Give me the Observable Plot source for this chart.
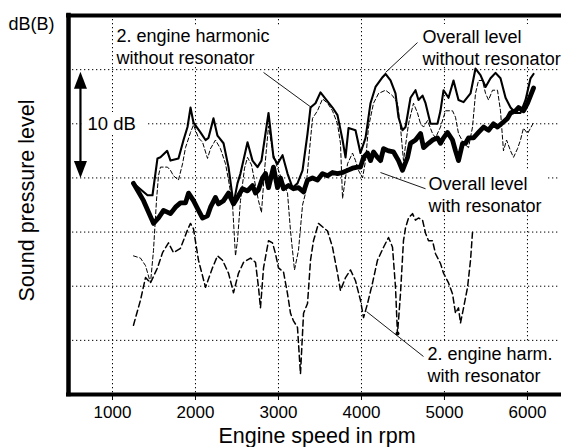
<!DOCTYPE html>
<html><head><meta charset="utf-8">
<script src="https://cdn.jsdelivr.net/npm/d3@7"></script>
<script src="https://cdn.jsdelivr.net/npm/@observablehq/plot@0.6"></script>
<style>body{margin:0;background:#fff} svg{display:block}</style>
</head><body><div id="chart"></div>
<script>
// ---- data (rpm, dB) ----
const overallWithoutRpm = [1253,1422,1482,1542,1578,1659,1699,1795,1856,1904,1940,1976,2060,2121,2157,2217,2265,2338,2398,2458,2506,2542,2627,2687,2747,2795,2832,2880,2940,2988,3049,3109,3169,3229,3290,3350,3386,3446,3506,3567,3651,3711,3772,3808,3844,3928,3988,4049,4109,4169,4254,4290,4350,4410,4446,4494,4531,4591,4651,4687,4736,4772,4832,4916,4952,4989,5049,5109,5169,5230,5314,5374,5434,5495,5555,5615,5675,5736,5796,5856,5916,5977,6037,6073];
const overallWithoutDb = [19.5,18.4,18.4,21.8,21.9,22.5,21.6,21.8,23.5,24.7,26.5,25.1,24.2,23.5,23.7,25.5,23.9,23.2,21.0,17.6,19.5,20.4,23.3,21.6,21.0,21.6,23.5,26.0,21.9,21.3,22.1,20.4,19.1,19.5,20.7,24.1,26.5,26.9,27.9,27.3,26.5,25.8,23.5,21.9,24.6,24.4,22.3,23.7,26.9,28.4,29.3,29.6,29.0,27.8,25.6,24.4,24.7,27.4,28.1,27.2,27.6,26.9,25.0,25.0,26.2,28.1,27.4,29.0,27.2,27.0,27.8,30.1,29.5,28.4,29.2,29.7,29.2,27.4,26.5,26.0,26.0,27.2,29.2,29.6];

const harmWithoutRpm = [1253,1337,1398,1458,1494,1530,1554,1578,1663,1699,1735,1795,1844,1880,1940,1976,2036,2085,2145,2181,2241,2301,2362,2398,2446,2482,2506,2542,2591,2627,2675,2723,2759,2795,2832,2880,2928,2976,3024,3073,3109,3145,3193,3241,3290,3326,3362,3410,3470,3531,3591,3651,3711,3747,3772,3832,3892,3928,3964,4013,4049,4085,4145,4206,4290,4374,4434,4470,4506,4567,4627,4675,4712,4748,4796,4856,4892,4952,5013,5097,5133,5169,5230,5290,5338,5374,5410,5458,5495,5531,5579,5639,5675,5711,5748,5796,5832,5880,5916,5952,6001,6037,6073];
const harmWithoutDb = [12.8,12.6,11.9,10.3,13.3,17.9,20.2,21.0,21.0,20.7,20.2,19.8,21.3,22.8,24.2,24.9,23.7,23.3,21.8,22.7,23.5,22.7,21.3,19.8,17.6,12.8,14.2,17.9,20.9,21.9,21.2,19.3,17.9,16.8,20.7,24.8,22.5,21.2,20.2,19.3,18.6,15.1,11.5,13.3,17.5,18.6,21.6,25.5,26.2,27.3,26.9,26.2,25.0,23.2,18.1,21.3,22.3,21.6,20.7,20.0,21.6,24.7,26.9,27.8,28.1,27.6,26.9,24.7,21.6,25.0,26.9,26.0,25.0,24.7,25.3,24.1,23.7,24.7,26.2,26.2,25.6,24.1,23.2,22.8,24.7,27.8,29.0,29.0,27.8,27.2,28.1,28.1,26.2,22.5,23.5,22.5,21.9,22.7,23.5,24.6,24.1,24.6,25.1];

const overallWithRpm = [1253,1374,1494,1554,1615,1699,1759,1819,1880,1916,1976,2036,2085,2145,2181,2241,2277,2338,2398,2458,2506,2566,2627,2687,2723,2759,2808,2844,2880,2940,2988,3024,3061,3121,3181,3241,3302,3350,3410,3470,3531,3591,3651,3711,3772,3832,3892,3952,3988,4025,4073,4109,4145,4193,4230,4266,4326,4386,4446,4494,4555,4591,4651,4712,4748,4808,4856,4916,4952,4989,5037,5097,5133,5169,5218,5254,5290,5350,5410,5471,5531,5591,5639,5700,5760,5796,5856,5892,5952,6001,6037,6073];
const overallWithDb = [19.5,17.9,15.8,16.3,17.0,16.7,17.3,17.7,17.7,18.6,17.9,17.0,16.3,16.5,17.3,18.2,17.6,17.9,18.6,17.6,18.2,19.0,18.8,19.3,18.6,18.9,20.0,20.4,19.1,21.0,19.1,20.0,19.0,19.3,19.0,19.1,18.7,19.8,20.0,19.8,20.4,20.2,20.5,20.4,20.5,20.7,20.9,21.0,21.0,21.9,22.3,21.6,22.4,21.9,21.6,22.7,22.5,22.4,21.6,20.7,21.9,23.2,23.5,24.1,22.8,23.2,23.5,23.7,23.2,23.7,24.2,23.5,22.5,21.6,23.2,23.2,23.7,23.7,24.2,24.7,24.4,25.0,24.7,25.1,25.5,26.0,26.2,26.5,26.2,26.9,27.6,28.3];

const harmWithRpm = [1253,1337,1398,1458,1542,1603,1675,1735,1819,1904,1940,1976,2036,2121,2205,2265,2326,2398,2458,2518,2579,2663,2723,2759,2783,2820,2880,2928,2964,3000,3061,3109,3145,3181,3229,3265,3302,3350,3386,3422,3482,3543,3591,3651,3711,3747,3808,3868,3928,3988,4025,4073,4133,4193,4266,4326,4374,4410,4434,4470,4506,4531,4567,4615,4651,4687,4736,4772,4808,4856,4892,4952,4989,5049,5097,5133,5169,5193,5230,5278,5314,5338];
const harmWithDb = [6.4,8.7,10.8,10.3,11.7,13.1,14.0,13.1,13.5,15.2,15.8,15.3,12.4,9.9,11.7,12.8,12.4,11.2,9.4,11.2,12.2,12.6,12.2,9.9,8.0,11.7,14.2,14.0,13.0,11.7,11.3,9.3,7.5,6.8,6.2,1.9,7.5,8.4,12.4,14.2,15.8,15.4,15.1,13.6,11.2,9.6,10.8,11.5,10.5,8.7,7.1,8.4,10.3,12.4,13.6,14.5,13.6,9.9,5.6,9.3,14.2,15.4,16.3,16.7,16.1,16.3,16.1,14.9,14.2,14.2,13.0,12.1,11.2,10.3,9.3,7.5,8.0,6.6,8.0,9.9,12.4,15.0];

// axis / grid
const xDomain = [470, 6386];
const yDomain = [0, 35];
const xTicks = [1000, 2000, 3000, 4000, 5000, 6000];
const gridDb = [5, 10, 15, 20, 25, 30];

// annotations
const labelTexts = ["2. engine harmonic\nwithout resonator", "Overall level\nwithout resonator", "Overall level\nwith resonator", "2. engine harm.\nwith resonator"];
const labelRpm = [1048, 4736, 4808, 4796];
const labelDb = [33.97, 33.87, 20.3, 4.6];
const boxX1 = [1024, 4711, 4784, 4772, 651];
const boxX2 = [3030, 6386, 6240, 6386, 1410];
const boxY1 = [34.08, 34.17, 20.59, 4.71, 26.04];
const boxY2 = [30.38, 30.29, 16.90, 0.46, 24.01];
const leaderX1 = [2820, 4675, 4229, 4061];
const leaderY1 = [29.74, 32.5, 20.5, 7.66];
const leaderX2 = [3398, 4290, 4772, 4747];
const leaderY2 = [26.5, 29.74, 19.0, 3.51];
const leaderDot = [{x: 4434, y: 5.63}];
const spanRpm = 614, spanTop = 29.8, spanBottom = 20.0;
const spanLabel = "10 dB";

const zip = (xs, ys) => xs.slice(0, Math.min(xs.length, ys.length)).map((x, i) => ({x, y: ys[i]}));
const A = zip(overallWithoutRpm, overallWithoutDb);
const B = zip(harmWithoutRpm, harmWithoutDb);
const C = zip(overallWithRpm, overallWithDb);
const D = zip(harmWithRpm, harmWithDb);
const labels = labelTexts.map((t, i) => ({t, x: labelRpm[i], y: labelDb[i]}));
const boxes = boxX1.map((x1, i) => ({x1, x2: boxX2[i], y1: boxY1[i], y2: boxY2[i]}));
const leaders = leaderX1.map((x1, i) => ({x1, y1: leaderY1[i], x2: leaderX2[i], y2: leaderY2[i]}));

const headUp = {draw(ctx) { ctx.moveTo(0, 0); ctx.lineTo(6.5, 17); ctx.lineTo(-6.5, 17); ctx.closePath(); }};
const headDown = {draw(ctx) { ctx.moveTo(0, 0); ctx.lineTo(6.5, -17); ctx.lineTo(-6.5, -17); ctx.closePath(); }};

const dotted = {stroke: "#000", strokeWidth: 1, strokeDasharray: "1.3,2.7"};

const chart = Plot.plot({
  width: 561, height: 447,
  marginLeft: 68, marginRight: 2, marginTop: 15, marginBottom: 53,
  style: {fontFamily: "'Liberation Sans', Arial, sans-serif", background: "white", color: "black"},
  x: {domain: xDomain, label: null},
  y: {domain: yDomain, axis: null},
  marks: [
    Plot.ruleX(xTicks, dotted),
    Plot.ruleY(gridDb, dotted),
    Plot.rect(boxes, {x1: "x1", x2: "x2", y1: "y1", y2: "y2", fill: "white"}),
    Plot.line(D, {x: "x", y: "y", stroke: "#000", strokeWidth: 1.5, strokeDasharray: "6,3.5"}),
    Plot.line(B, {x: "x", y: "y", stroke: "#000", strokeWidth: 1, strokeDasharray: "4,2.5"}),
    Plot.line(A, {x: "x", y: "y", stroke: "#000", strokeWidth: 2.1}),
    Plot.line(C, {x: "x", y: "y", stroke: "#000", strokeWidth: 4.8}),
    Plot.link(leaders, {x1: "x1", y1: "y1", x2: "x2", y2: "y2", stroke: "#000", strokeWidth: 0.9}),
    Plot.dot(leaderDot, {x: "x", y: "y", r: 2, fill: "#000"}),
    Plot.ruleX([spanRpm], {y1: spanBottom + 1, y2: spanTop - 1, stroke: "#000", strokeWidth: 2.2}),
    Plot.dot([{x: spanRpm, y: spanTop}], {x: "x", y: "y", symbol: headUp, fill: "#000", r: 5}),
    Plot.dot([{x: spanRpm, y: spanBottom}], {x: "x", y: "y", symbol: headDown, fill: "#000", r: 5}),
    Plot.text([spanLabel], {x: 699, y: 25, text: d => d, textAnchor: "start", lineAnchor: "middle", fontSize: 18.5}),
    Plot.text(labels, {x: "x", y: "y", text: "t", textAnchor: "start", lineAnchor: "top", lineHeight: 1.22, fontSize: 18}),
    Plot.ruleX([xDomain[0]], {stroke: "#000", strokeWidth: 4.5, strokeLinecap: "square"}),
    Plot.ruleY(yDomain, {stroke: "#000", strokeWidth: 4, strokeLinecap: "square"}),
    Plot.axisX(xTicks, {tickSize: 6, tickPadding: 5, fontSize: 17, label: null, tickFormat: d => String(d)}),
    Plot.text(["dB(B)"], {text: d => d, frameAnchor: "top-left", dx: -60, dy: 8.3, textAnchor: "start", lineAnchor: "middle", fontSize: 18}),
    Plot.text(["Sound pressure level"], {text: d => d, frameAnchor: "left", dx: -41, dy: -4.5, rotate: -90, textAnchor: "middle", lineAnchor: "middle", fontSize: 21.5}),
    Plot.text(["Engine speed in rpm"], {text: d => d, frameAnchor: "bottom", dx: 3, dy: 41.2, textAnchor: "middle", lineAnchor: "middle", fontSize: 21.5})
  ]
});
document.getElementById("chart").appendChild(chart);
</script>
</body></html>
